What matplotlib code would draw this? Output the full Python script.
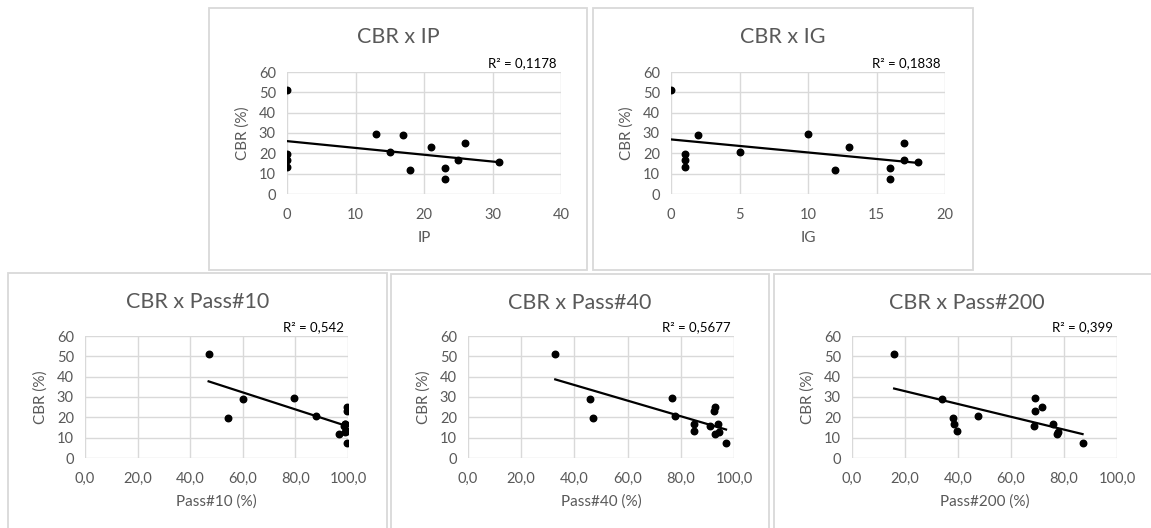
import matplotlib.pyplot as plt
from matplotlib.patches import Rectangle
import numpy as np

plt.rcParams['font.family'] = ['Lato', 'DejaVu Sans']

# CBR of the 14 samples
cbr = [51, 19.8, 16.5, 13.5, 29.5, 20.8, 29, 11.8, 23.3, 12.8, 7.3, 16.8, 25.3, 15.7]
ip = [0, 0, 0, 0, 13, 15, 17, 18, 21, 23, 23, 25, 26, 31]
ig = [0, 1, 1, 1, 10, 5, 2, 12, 13, 16, 16, 17, 17, 18]
pass10 = [47, 54.5, 99, 99.5, 79.5, 88, 60, 96.5, 99.5, 99, 99.5, 99, 99.5, 98.5]
pass40 = [32.8, 47, 85, 84.8, 76.8, 78, 46, 93, 92.5, 94.5, 97, 94, 93, 91]
pass200 = [15.9, 38.3, 38.6, 39.8, 69.1, 47.4, 34, 77.4, 68.9, 77.8, 87, 75.8, 71.6, 68.6]

titles = ['CBR x IP', 'CBR x IG', 'CBR x Pass#10', 'CBR x Pass#40', 'CBR x Pass#200']
xlabels = ['IP', 'IG', 'Pass#10 (%)', 'Pass#40 (%)', 'Pass#200 (%)']
r2_text = ['0,1178', '0,1838', '0,542', '0,5677', '0,399']

W, H = 1151, 528
fig = plt.figure(figsize=(W / 100, H / 100), dpi=100)

# chart boxes (x0, y0, x1, y1) in pixels, axes boxes likewise
boxes = [(209, 8, 587, 270), (593, 8, 973, 270),
         (8, 273, 387, 540), (391, 274, 769, 540), (774, 274, 1160, 540)]
plots = [(287, 72, 561, 194), (671, 72, 945, 194),
         (85, 336, 348, 458), (468, 336, 734, 458), (852, 336, 1117, 458)]

xdata = [ip, ig, pass10, pass40, pass200]
xlims = [(0, 40, 10), (0, 20, 5), (0, 100, 20), (0, 100, 20), (0, 100, 20)]

grey = '#595959'
for i in range(5):
    bx0, by0, bx1, by1 = boxes[i]
    fig.add_artist(Rectangle((bx0 / W, 1 - by1 / H), (bx1 - bx0) / W, (by1 - by0) / H,
                             transform=fig.transFigure, fill=False,
                             edgecolor='#d9d9d9', lw=1.3))
    fig.text((bx0 + bx1) / 2 / W, 1 - (by0 + 29) / H, titles[i], ha='center',
             va='center', fontsize=15.5, color=grey)

    px0, py0, px1, py1 = plots[i]
    ax = fig.add_axes([px0 / W, 1 - py1 / H, (px1 - px0) / W, (py1 - py0) / H])
    x = np.array(xdata[i], dtype=float)
    y = np.array(cbr, dtype=float)
    ax.scatter(x, y, s=22, color='black', zorder=3)
    k, b = np.polyfit(x, y, 1)
    xs = np.array([x.min(), x.max()])
    ax.plot(xs, k * xs + b, color='black', lw=1.6, zorder=2)

    lo, hi, step = xlims[i]
    ax.set_xlim(lo, hi)
    ax.set_ylim(0, 60)
    ax.set_yticks(range(0, 61, 10))
    ticks = np.arange(lo, hi + step / 2, step)
    ax.set_xticks(ticks)
    if hi == 100:
        ax.set_xticklabels([f'{t:.1f}'.replace('.', ',') for t in ticks])
    ax.grid(True, color='#d9d9d9', lw=1)
    ax.set_axisbelow(True)
    for s in ax.spines.values():
        s.set_visible(False)
    ax.tick_params(length=0, labelsize=10.5, labelcolor=grey)
    ax.tick_params(axis='x', pad=10)
    ax.tick_params(axis='y', pad=8)

    ax.text(0.5, -44 / (py1 - py0), xlabels[i], transform=ax.transAxes,
            ha='center', va='center', fontsize=11, color=grey)
    ax.text(-44 / (px1 - px0), 0.5, 'CBR (%)', transform=ax.transAxes, rotation=90,
            ha='center', va='center', fontsize=11, color=grey)
    ax.text(0.985, 1.075, 'R² = ' + r2_text[i], transform=ax.transAxes,
            ha='right', va='center', fontsize=9.5, color='black')

fig.savefig('out.png', dpi=100)
